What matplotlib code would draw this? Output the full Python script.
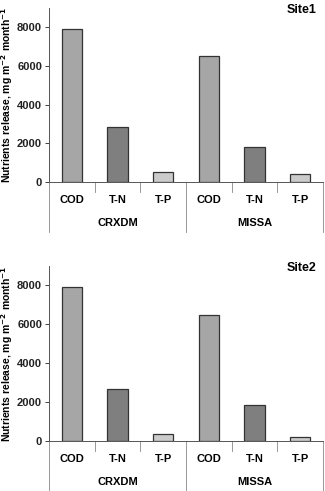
import matplotlib
matplotlib.use('Agg')
import matplotlib.pyplot as plt
import matplotlib.transforms as mtransforms

plt.rcParams['font.family'] = ['Liberation Sans', 'DejaVu Sans']
plt.rcParams['font.weight'] = 'bold'
plt.rcParams['mathtext.default'] = 'bf'

species = ['COD', 'T-N', 'T-P', 'COD', 'T-N', 'T-P']
groups = ['CRXDM', 'MISSA']
colors = ['#a6a6a6', '#7f7f7f', '#cbcbcb', '#a6a6a6', '#7f7f7f', '#cbcbcb']

site1 = [7900, 2830, 530, 6500, 1820, 400]
site2 = [7900, 2700, 360, 6500, 1850, 220]
sites = ['Site1', 'Site2']

W, H = 325, 491
fig = plt.figure(figsize=(W / 100, H / 100), dpi=100)

# panel pixel boxes: left, zero line y, top y
panels = [(49, 182, 8), (49, 441, 266)]
right_px = 323
fs = 8

for (left, y0, ytop), vals, name in zip(panels, [site1, site2], sites):
    hpx = y0 - ytop
    ax = fig.add_axes([left / W, 1 - y0 / H, (right_px - left) / W, hpx / H])
    x = range(len(vals))
    ax.bar(x, vals, width=0.44, color=colors, edgecolor='#333333', linewidth=0.9)
    ax.set_xlim(-0.5, len(vals) - 0.5)
    ax.set_ylim(0, 9000)
    ax.set_yticks([0, 2000, 4000, 6000, 8000])
    ax.tick_params(axis='y', labelsize=fs, length=3, width=0.6, pad=2, colors='#222222')
    ax.set_xticks([])
    for s in ['top', 'right']:
        ax.spines[s].set_visible(False)
    for s in ['left', 'bottom']:
        ax.spines[s].set_linewidth(0.7)
        ax.spines[s].set_color('#555555')

    trans = mtransforms.blended_transform_factory(ax.transData, ax.transAxes)
    # separators under the axis
    for i in range(len(vals) + 1):
        b = i - 0.5
        long = (i % 3 == 0)
        yend = -50 / hpx if long else -10 / hpx
        ax.plot([b, b], [0, yend], transform=trans, color='#888888',
                linewidth=0.6, clip_on=False)
    for i, lab in enumerate(species):
        ax.text(i, -18 / hpx, lab, transform=trans, ha='center', va='center',
                fontsize=fs, fontweight='bold')
    for g, lab in enumerate(groups):
        ax.text(g * 3 + 1, -41 / hpx, lab, transform=trans, ha='center', va='center',
                fontsize=fs, fontweight='bold')

    fig.text(302 / W, 1 - (ytop + 2) / H, name, ha='center', va='center',
             fontsize=9, fontweight='bold')
    fig.text(7 / W, 1 - (y0 + ytop) / 2 / H,
             'Nutrients release, mg m$^{-2}$ month$^{-1}$',
             rotation=90, ha='center', va='center', fontsize=7.5, fontweight='bold')

fig.savefig('out.png', dpi=100)
